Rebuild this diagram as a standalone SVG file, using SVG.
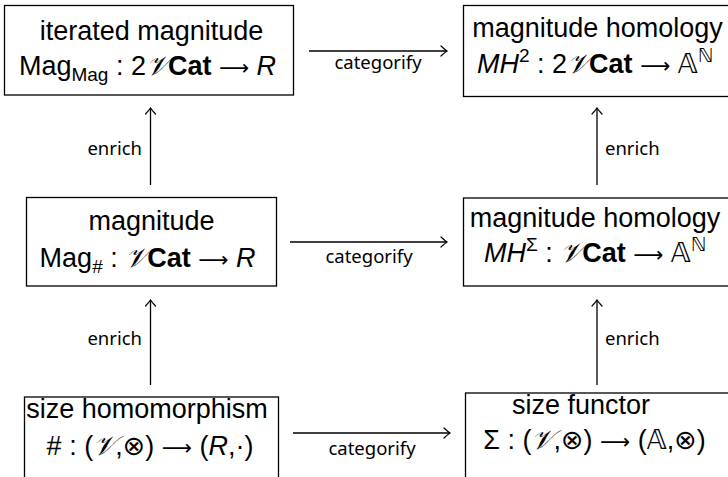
<svg xmlns="http://www.w3.org/2000/svg" width="728" height="477" viewBox="0 0 728 477">
<style>
.box{fill:#fff;stroke:#000;stroke-width:1.3}
.t{font-family:"Liberation Sans",Arial,sans-serif;font-size:27px;fill:#000;text-anchor:middle}
.cal{font-family:"DejaVu Serif","Liberation Serif",serif;font-style:italic}
.b{font-weight:bold}
.i{font-style:italic}
.ar{font-family:"DejaVu Sans",sans-serif;font-size:21px}
.bb{font-family:"DejaVu Sans",sans-serif}
.lbl{font-family:"Noto Sans","Open Sans",sans-serif;font-size:18.5px;fill:#000}
.edge{stroke:#000;stroke-width:1.3;fill:none;marker-end:url(#arr)}
</style>
<defs>
<marker id="arr" markerUnits="userSpaceOnUse" viewBox="-8 -6 10 12" refX="0" refY="0" markerWidth="10" markerHeight="12" orient="auto">
<path d="M-6,-5 Q-2,-1.2 0,0 Q-2,1.2 -6,5" fill="none" stroke="#000" stroke-width="1.2" stroke-linecap="round"/>
</marker>
</defs>
<rect width="728" height="477" fill="#fff"/>
<g id="iterated-magnitude">
<rect class="box" x="4.5" y="5.5" width="289" height="89.5"/>
<text class="t" x="151.5" y="40">iterated magnitude</text>
<text class="t" x="147.5" y="75">Mag<tspan font-size="19" dy="6">Mag</tspan><tspan dy="-6"> : 2</tspan><tspan class="cal">𝒱</tspan><tspan class="b">Cat</tspan> <tspan class="ar">⟶</tspan> <tspan class="i">R</tspan></text>
</g>
<g id="magnitude-homology-2">
<rect class="box" x="463.5" y="5.5" width="280" height="91"/>
<text class="t" x="597.5" y="37">magnitude homology</text>
<text class="t" x="595" y="73"><tspan class="i">MH</tspan><tspan font-size="19" dy="-11">2</tspan><tspan dy="11"> : 2</tspan><tspan class="cal">𝒱</tspan><tspan class="b">Cat</tspan> <tspan class="ar">⟶</tspan> <tspan class="bb">𝔸</tspan><tspan class="bb" font-size="19" dy="-11">ℕ</tspan></text>
</g>
<g id="magnitude">
<rect class="box" x="26.5" y="197.5" width="250" height="88.5"/>
<text class="t" x="151.5" y="230">magnitude</text>
<text class="t" x="147.5" y="267">Mag<tspan font-size="19" dy="6">#</tspan><tspan dy="-6"> : </tspan><tspan class="cal">𝒱</tspan><tspan class="b">Cat</tspan> <tspan class="ar">⟶</tspan> <tspan class="i">R</tspan></text>
</g>
<g id="magnitude-homology-sigma">
<rect class="box" x="463.5" y="198" width="280" height="88"/>
<text class="t" x="595" y="227">magnitude homology</text>
<text class="t" x="595" y="262"><tspan class="i">MH</tspan><tspan font-size="19" dy="-11">Σ</tspan><tspan dy="11"> : </tspan><tspan class="cal">𝒱</tspan><tspan class="b">Cat</tspan> <tspan class="ar">⟶</tspan> <tspan class="bb">𝔸</tspan><tspan class="bb" font-size="19" dy="-11">ℕ</tspan></text>
</g>
<g id="size-homomorphism">
<rect class="box" x="24.5" y="397" width="254" height="100"/>
<text class="t" x="147" y="418">size homomorphism</text>
<text class="t" x="150" y="455">#<tspan> : (</tspan><tspan class="cal">𝒱</tspan>,<tspan class="bb">⊗</tspan>) <tspan class="ar">⟶</tspan> (<tspan class="i">R</tspan>,·)</text>
</g>
<g id="size-functor">
<rect class="box" x="465.5" y="393" width="280" height="100"/>
<text class="t" x="581" y="414">size functor</text>
<text class="t" x="594.5" y="449">Σ : (<tspan class="cal">𝒱</tspan>,<tspan class="bb">⊗</tspan>) <tspan class="ar">⟶</tspan> (<tspan class="bb">𝔸</tspan>,<tspan class="bb">⊗</tspan>)</text>
</g>
<g id="connectors">
<line class="edge" x1="309" y1="51" x2="447" y2="51"/>
<text class="lbl" x="378" y="69" text-anchor="middle">categorify</text>
<line class="edge" x1="290" y1="242" x2="447" y2="242"/>
<text class="lbl" x="369" y="263" text-anchor="middle">categorify</text>
<line class="edge" x1="293" y1="433" x2="450" y2="433"/>
<text class="lbl" x="372" y="455" text-anchor="middle">categorify</text>
<line class="edge" x1="150.5" y1="185" x2="150.5" y2="108"/>
<text class="lbl" x="142" y="155" text-anchor="end">enrich</text>
<line class="edge" x1="150.5" y1="385" x2="150.5" y2="300"/>
<text class="lbl" x="142" y="345" text-anchor="end">enrich</text>
<line class="edge" x1="597" y1="185" x2="597" y2="108"/>
<text class="lbl" x="605" y="155">enrich</text>
<line class="edge" x1="597" y1="385" x2="597" y2="300"/>
<text class="lbl" x="605" y="345">enrich</text>
</g>
</svg>
